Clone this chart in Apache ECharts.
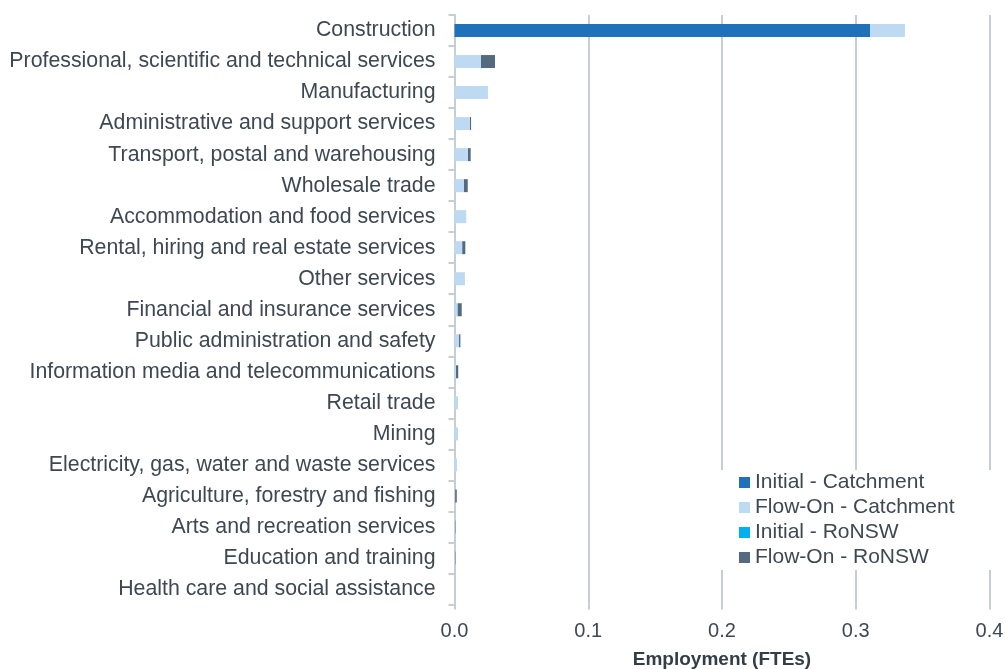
<!DOCTYPE html>
<html>
<head>
<meta charset="utf-8">
<script src="https://cdn.jsdelivr.net/npm/echarts@6/dist/echarts.min.js"></script>
<style>html,body{margin:0;padding:0;background:#fff}#c{width:1005px;height:669px}</style>
</head>
<body>
<div id="c"></div>
<script>
const categories = [
  "Construction",
  "Professional, scientific and technical services",
  "Manufacturing",
  "Administrative and support services",
  "Transport, postal and warehousing",
  "Wholesale trade",
  "Accommodation and food services",
  "Rental, hiring and real estate services",
  "Other services",
  "Financial and insurance services",
  "Public administration and safety",
  "Information media and telecommunications",
  "Retail trade",
  "Mining",
  "Electricity, gas, water and waste services",
  "Agriculture, forestry and fishing",
  "Arts and recreation services",
  "Education and training",
  "Health care and social assistance"
];
const initialCatchment = [0.3108,0,0,0,0,0,0,0,0,0,0,0,0,0,0,0,0,0,0];
const flowOnCatchment  = [0.026,0.0198,0.025,0.0116,0.0101,0.0071,0.0088,0.0058,0.0078,0.0024,0.0034,0.0011,0.0026,0.0026,0.0019,0.0005,0.0007,0.0007,0];
const initialRoNSW     = [0,0,0,0,0,0,0,0,0,0,0,0,0,0,0,0,0,0,0];
const flowOnRoNSW      = [0,0.0105,0,0.0008,0.002,0.0028,0,0.0023,0,0.003,0.001,0.0017,0,0,0,0.0012,0.0003,0.0003,0];
const xTicks = [0, 0.1, 0.2, 0.3, 0.4];
const seriesNames = ["Initial - Catchment","Flow-On - Catchment","Initial - RoNSW","Flow-On - RoNSW"];
const seriesColors = ["#1F72BA","#BDDAF2","#00B0F0","#536A80"];

const grey = "#C5CED4";
const txt = "#3E4852";
const chart = echarts.init(document.getElementById('c'));
const dataSets = [initialCatchment, flowOnCatchment, initialRoNSW, flowOnRoNSW];
chart.setOption({
  animation: false,
  textStyle: { fontFamily: "Liberation Sans, Arial, sans-serif" },
  grid: { left: 454.5, right: 15.5, top: 15, bottom: 64.5, containLabel: false, outerBoundsMode: 'none' },
  xAxis: {
    type: 'value', min: xTicks[0], max: xTicks[xTicks.length-1], interval: 0.1,
    axisLine: { show: false },
    axisTick: { show: true, length: 5, lineStyle: { color: grey, width: 2 } },
    splitLine: { show: true, lineStyle: { color: grey, width: 2 } },
    axisLabel: { color: txt, fontSize: 20, margin: 17, formatter: v => v.toFixed(1) },
    name: 'Employment (FTEs)', nameLocation: 'middle', nameGap: 46,
    nameTextStyle: { color: '#333D47', fontSize: 19, fontWeight: 'bold' }
  },
  yAxis: {
    type: 'category', data: categories, inverse: true,
    axisLine: { show: true, lineStyle: { color: grey, width: 2 } },
    axisTick: { show: true, length: 6, lineStyle: { color: grey, width: 2 } },
    axisLabel: { color: txt, fontSize: 21.3, margin: 19, padding: [3, 0, 0, 0] },
    splitLine: { show: false }
  },
  legend: {
    orient: 'vertical', left: 718, top: 470,
    padding: [2, 40, 2, 21], backgroundColor: '#fff',
    itemWidth: 11, itemHeight: 11, itemGap: 4,
    icon: 'rect',
    textStyle: { color: txt, fontSize: 21 },
    data: seriesNames
  },
  series: seriesNames.map((n, i) => ({
    name: n, type: 'bar', stack: 'total', barWidth: 13,
    itemStyle: { color: seriesColors[i] },
    data: dataSets[i]
  }))
});
</script>
</body>
</html>
